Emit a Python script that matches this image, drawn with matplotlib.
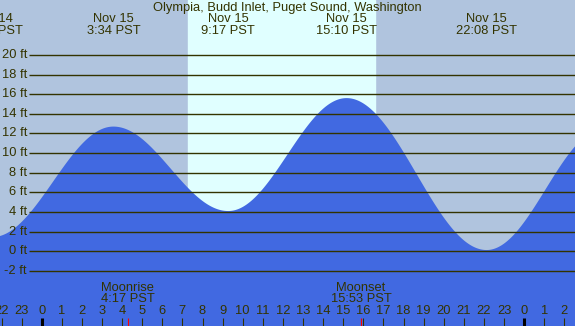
import numpy as np
import matplotlib
matplotlib.use('Agg')
import matplotlib.pyplot as plt
import matplotlib.transforms as mtransforms

# tide extremes (hours from Nov 15 00:00, feet)
ext_hours = [-2.45, 3.567, 9.283, 15.167, 22.133, 28.0]
ext_heights = [1.45, 12.7, 4.1, 15.6, 0.13, 12.5]
# the last extreme lies past the right edge, its label is not shown
ext_labels = ['Nov 14\n21:33 PST', 'Nov 15\n3:34 PST', 'Nov 15\n9:17 PST',
              'Nov 15\n15:10 PST', 'Nov 15\n22:08 PST', '']

sunrise = 7.28
sunset = 16.58
moon_hours = [4.283, 15.883]
moon_labels = ['Moonrise\n4:17 PST', 'Moonset\n15:53 PST']

ft_levels = list(range(-2, 21, 2))
hour_ticks = list(range(-2, 27))

title = 'Olympia, Budd Inlet, Puget Sound, Washington'

NIGHT = '#b0c4de'
DAY = '#e0ffff'
WATER = '#4169e1'
INK = '#333300'

plt.rcParams['font.family'] = ['Liberation Sans', 'DejaVu Sans']
FS = 9.3

fig = plt.figure(figsize=(5.75, 3.26), dpi=100)
ax = fig.add_axes([0, 0, 1, 1])
xmin, xmax = -2.075, 26.53
ymin, ymax = -7.607, 25.59
ax.set_xlim(xmin, xmax)
ax.set_ylim(ymin, ymax)
ax.axis('off')
fig.patch.set_facecolor(NIGHT)

# day band
ax.axvspan(sunrise, sunset, color=DAY, zorder=0)

# tide curve: cosine interpolation between extremes
t = np.linspace(xmin, xmax, 2000)
h = np.zeros_like(t)
for i in range(len(ext_hours) - 1):
    t0, t1 = ext_hours[i], ext_hours[i + 1]
    h0, h1 = ext_heights[i], ext_heights[i + 1]
    m = (t >= t0) & (t <= t1)
    ph = (t[m] - t0) / (t1 - t0)
    h[m] = h0 + (h1 - h0) * (1 - np.cos(np.pi * ph)) / 2
ax.fill_between(t, ymin, h, color=WATER, lw=0, zorder=1)

# horizontal ft lines and labels
xpx = lambda px: xmin + (xmax - xmin) * px / 575.0
for lv in ft_levels:
    ax.plot([xpx(29), xmax], [lv, lv], color=INK, lw=1.0, zorder=2,
            solid_capstyle='butt')
    ax.text(xpx(27), lv, '%d ft' % lv, ha='right', va='center',
            fontsize=FS, color=INK, zorder=3)

blend = mtransforms.blended_transform_factory(ax.transData, ax.transAxes)
ypx = lambda py: 1 - py / 326.0

# title and extreme labels
ax.text(0.5, ypx(7.5), title, transform=ax.transAxes, ha='center',
        va='center', fontsize=FS, color=INK)
for hr, lab in zip(ext_hours, ext_labels):
    if not lab:
        continue
    l1, l2 = lab.split('\n')
    ax.text(hr, ypx(19.5), l1, transform=blend, ha='center', va='center',
            fontsize=FS, color=INK)
    ax.text(hr, ypx(31.5), l2, transform=blend, ha='center', va='center',
            fontsize=FS, color=INK)

# hour ticks
for hr in hour_ticks:
    lab = str(hr % 24)
    ax.text(hr, ypx(311.5), lab, transform=blend, ha='center', va='center',
            fontsize=FS, color=INK)
    if hr % 24 == 0:
        ax.plot([hr, hr], [ypx(318), 0], transform=blend, color='black',
                lw=2.2, solid_capstyle='butt', zorder=3)
    else:
        ax.plot([hr, hr], [ypx(318), 0], transform=blend, color=INK,
                lw=0.8, solid_capstyle='butt', zorder=3)

# moon events
for hr, lab in zip(moon_hours, moon_labels):
    l1, l2 = lab.split('\n')
    ax.text(hr, ypx(288), l1, transform=blend, ha='center', va='center',
            fontsize=FS, color=INK)
    ax.text(hr, ypx(299.5), l2, transform=blend, ha='center', va='center',
            fontsize=FS, color=INK)
    ax.plot([hr, hr], [ypx(318), 0], transform=blend, color='red',
            lw=0.8, solid_capstyle='butt', zorder=3)

fig.savefig('out.png', dpi=100, facecolor=NIGHT)
